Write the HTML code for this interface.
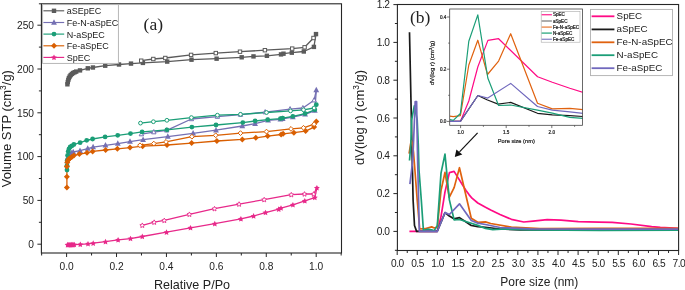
<!DOCTYPE html><html><head><meta charset="utf-8"><style>html,body{margin:0;padding:0;background:#fff;}svg{display:block;will-change:transform;}</style></head><body>
<svg width="685" height="290" viewBox="0 0 685 290">
<rect width="685" height="290" fill="#fff"/>
<g>
<polyline points="67.4,84.3 67.8,82 68.3,79.9 68.9,78.1 69.7,76.5 70.7,75.1 71.9,73.9 73.2,73 74.7,72.2 76.2,71.6 80,70.4 87.8,68.3 92.9,67.5 105.2,65.7 119,64.5 131,63.6 142.9,62.9 167.2,61.6 191.5,59.7 216.6,58.7 241.7,57.3 253.5,56.4 266.9,55.8 281,54.4 283.5,53.7 291.8,52.7 303.8,51.5 313.9,46.9 316,34.1" fill="none" stroke="#5b5b5b" stroke-width="1.3" stroke-linejoin="round" stroke-linecap="butt" />
<polyline points="316,34.1 313.5,38 304.6,47.3 292.2,48.6 264.9,50.2 240,51.7 215.8,53.1 191.1,54.9 165.3,58 153.3,59 141.2,60.7" fill="none" stroke="#5b5b5b" stroke-width="1.3" stroke-linejoin="round" stroke-linecap="butt" />
<polyline points="67,165 67.2,161 67.8,157.5 68.8,155.5 70,154.2 71.5,153 73.2,152 80,150.7 87.7,148.6 93.1,147.1 105.5,145.3 117.8,143.6 130,141.6 143.1,139.7 167.8,136.6 193.1,133.3 216,130.2 242.3,126 255.1,123.7 268.1,120.4 280.4,119.3 282.7,118.8 292.8,117 305.1,114.4 314.8,110.6 316.3,90.1" fill="none" stroke="#7570b3" stroke-width="1.3" stroke-linejoin="round" stroke-linecap="butt" />
<polyline points="316.3,90.1 314.1,100.2 302.9,108 290.1,109.1 265.2,112.1 240.5,114.6 217.4,116.6 191.4,119 166.7,130.3 153.8,132.1 141.4,134.1" fill="none" stroke="#7570b3" stroke-width="1.3" stroke-linejoin="round" stroke-linecap="butt" />
<polyline points="67,170 67,165.5 67.2,160.5 67.6,155.5 68.2,151.5 69,148.8 70.2,147 71.8,145.9 73.9,144.5 80.1,142.7 86.7,140.3 92.6,139 105.1,136.9 117.7,135.3 130.5,133.6 142.1,131.9 166.9,129.8 191.9,127.1 216,125 242.8,122.6 255.1,121 267.7,119.7 280.4,118.6 282.7,118.1 292.8,116.3 305.1,113.6 314.8,109.8 316.3,104.7" fill="none" stroke="#1b9e77" stroke-width="1.3" stroke-linejoin="round" stroke-linecap="butt" />
<polyline points="316.3,104.7 314.1,108 303.5,109.8 290.5,110.9 266.5,112.5 240.5,114.3 217.4,115.2 191.4,117.6 166.9,120.3 153.4,121.7 140.5,123.1" fill="none" stroke="#1b9e77" stroke-width="1.3" stroke-linejoin="round" stroke-linecap="butt" />
<polyline points="66.9,187.4 66.9,176.7 66.9,166.4 67.3,162.3 68,160.3 69,159 70.2,158 71.8,156.9 73.9,155.5 79.4,154.1 87,152.8 92.6,151.4 105.6,150 117.4,148.8 130,147.6 142.6,146.2 167,145 191.6,143.1 216.9,141 242.3,139.4 255.8,137.8 267.7,136.1 281.1,134.5 283.1,133.8 293.9,132.7 305.6,131.1 314.1,127.1 316.3,121.5" fill="none" stroke="#d95f02" stroke-width="1.3" stroke-linejoin="round" stroke-linecap="butt" />
<polyline points="316.3,121.5 314.1,124.2 303.5,127.8 291,128.9 266.5,131.6 240.5,133.1 215.7,135.3 191.9,136.7 166,141.9 153.8,143.6 140,145.3" fill="none" stroke="#d95f02" stroke-width="1.3" stroke-linejoin="round" stroke-linecap="butt" />
<polyline points="67.6,244.7 68.3,244.8 69.1,244.8 69.9,244.8 70.7,244.8 71.5,244.7 72.3,244.7 73.2,244.7 74.3,244.6 80.3,244.4 88,243.8 93.2,243.2 105.5,241.7 118.1,239.9 130.5,238.6 142.3,236.5 166.5,232.2 190.5,227.8 214.8,223.7 240.9,218.9 253.6,216 265.5,212.6 278.7,209.2 281,208.1 292.9,204.8 304.8,200.9 314.8,197.6 316.9,187.9" fill="none" stroke="#e7298a" stroke-width="1.3" stroke-linejoin="round" stroke-linecap="butt" />
<polyline points="316.9,187.9 313.7,194 304.5,194 291.3,194.7 264.2,199.6 239.1,204.1 214.5,208.7 189.4,214.3 164.3,220.4 154.2,222.2 142.3,225.3" fill="none" stroke="#e7298a" stroke-width="1.3" stroke-linejoin="round" stroke-linecap="butt" />
<rect x="65.2" y="82.1" width="4.4" height="4.4" fill="#5b5b5b"/>
<rect x="65.6" y="79.8" width="4.4" height="4.4" fill="#5b5b5b"/>
<rect x="66.1" y="77.7" width="4.4" height="4.4" fill="#5b5b5b"/>
<rect x="66.7" y="75.9" width="4.4" height="4.4" fill="#5b5b5b"/>
<rect x="67.5" y="74.3" width="4.4" height="4.4" fill="#5b5b5b"/>
<rect x="68.5" y="72.9" width="4.4" height="4.4" fill="#5b5b5b"/>
<rect x="69.7" y="71.7" width="4.4" height="4.4" fill="#5b5b5b"/>
<rect x="71" y="70.8" width="4.4" height="4.4" fill="#5b5b5b"/>
<rect x="72.5" y="70" width="4.4" height="4.4" fill="#5b5b5b"/>
<rect x="74" y="69.4" width="4.4" height="4.4" fill="#5b5b5b"/>
<rect x="77.8" y="68.2" width="4.4" height="4.4" fill="#5b5b5b"/>
<rect x="85.6" y="66.1" width="4.4" height="4.4" fill="#5b5b5b"/>
<rect x="90.7" y="65.3" width="4.4" height="4.4" fill="#5b5b5b"/>
<rect x="103" y="63.5" width="4.4" height="4.4" fill="#5b5b5b"/>
<rect x="116.8" y="62.3" width="4.4" height="4.4" fill="#5b5b5b"/>
<rect x="128.8" y="61.4" width="4.4" height="4.4" fill="#5b5b5b"/>
<rect x="140.7" y="60.7" width="4.4" height="4.4" fill="#5b5b5b"/>
<rect x="165" y="59.4" width="4.4" height="4.4" fill="#5b5b5b"/>
<rect x="189.3" y="57.5" width="4.4" height="4.4" fill="#5b5b5b"/>
<rect x="214.4" y="56.5" width="4.4" height="4.4" fill="#5b5b5b"/>
<rect x="239.5" y="55.1" width="4.4" height="4.4" fill="#5b5b5b"/>
<rect x="251.3" y="54.2" width="4.4" height="4.4" fill="#5b5b5b"/>
<rect x="264.7" y="53.6" width="4.4" height="4.4" fill="#5b5b5b"/>
<rect x="278.8" y="52.2" width="4.4" height="4.4" fill="#5b5b5b"/>
<rect x="281.3" y="51.5" width="4.4" height="4.4" fill="#5b5b5b"/>
<rect x="289.6" y="50.5" width="4.4" height="4.4" fill="#5b5b5b"/>
<rect x="301.6" y="49.3" width="4.4" height="4.4" fill="#5b5b5b"/>
<rect x="311.7" y="44.7" width="4.4" height="4.4" fill="#5b5b5b"/>
<rect x="313.8" y="31.9" width="4.4" height="4.4" fill="#5b5b5b"/>
<rect x="311.8" y="36.3" width="3.4" height="3.4" fill="#fff" stroke="#5b5b5b" stroke-width="1"/>
<rect x="302.9" y="45.6" width="3.4" height="3.4" fill="#fff" stroke="#5b5b5b" stroke-width="1"/>
<rect x="290.5" y="46.9" width="3.4" height="3.4" fill="#fff" stroke="#5b5b5b" stroke-width="1"/>
<rect x="263.2" y="48.5" width="3.4" height="3.4" fill="#fff" stroke="#5b5b5b" stroke-width="1"/>
<rect x="238.3" y="50" width="3.4" height="3.4" fill="#fff" stroke="#5b5b5b" stroke-width="1"/>
<rect x="214.1" y="51.4" width="3.4" height="3.4" fill="#fff" stroke="#5b5b5b" stroke-width="1"/>
<rect x="189.4" y="53.2" width="3.4" height="3.4" fill="#fff" stroke="#5b5b5b" stroke-width="1"/>
<rect x="163.6" y="56.3" width="3.4" height="3.4" fill="#fff" stroke="#5b5b5b" stroke-width="1"/>
<rect x="151.6" y="57.3" width="3.4" height="3.4" fill="#fff" stroke="#5b5b5b" stroke-width="1"/>
<rect x="139.5" y="59" width="3.4" height="3.4" fill="#fff" stroke="#5b5b5b" stroke-width="1"/>
<polygon points="67,161.69 69.9,167.2 64.1,167.2" fill="#7570b3"/>
<polygon points="67.2,157.69 70.1,163.2 64.3,163.2" fill="#7570b3"/>
<polygon points="67.8,154.19 70.7,159.7 64.9,159.7" fill="#7570b3"/>
<polygon points="68.8,152.19 71.7,157.7 65.9,157.7" fill="#7570b3"/>
<polygon points="70,150.89 72.9,156.4 67.1,156.4" fill="#7570b3"/>
<polygon points="71.5,149.69 74.4,155.2 68.6,155.2" fill="#7570b3"/>
<polygon points="73.2,148.69 76.1,154.2 70.3,154.2" fill="#7570b3"/>
<polygon points="80,147.39 82.9,152.9 77.1,152.9" fill="#7570b3"/>
<polygon points="87.7,145.29 90.6,150.8 84.8,150.8" fill="#7570b3"/>
<polygon points="93.1,143.79 96,149.3 90.2,149.3" fill="#7570b3"/>
<polygon points="105.5,141.99 108.4,147.5 102.6,147.5" fill="#7570b3"/>
<polygon points="117.8,140.29 120.7,145.8 114.9,145.8" fill="#7570b3"/>
<polygon points="130,138.29 132.9,143.8 127.1,143.8" fill="#7570b3"/>
<polygon points="143.1,136.39 146,141.9 140.2,141.9" fill="#7570b3"/>
<polygon points="167.8,133.29 170.7,138.8 164.9,138.8" fill="#7570b3"/>
<polygon points="193.1,129.99 196,135.5 190.2,135.5" fill="#7570b3"/>
<polygon points="216,126.89 218.9,132.4 213.1,132.4" fill="#7570b3"/>
<polygon points="242.3,122.69 245.2,128.2 239.4,128.2" fill="#7570b3"/>
<polygon points="255.1,120.39 258,125.9 252.2,125.9" fill="#7570b3"/>
<polygon points="268.1,117.09 271,122.6 265.2,122.6" fill="#7570b3"/>
<polygon points="280.4,115.99 283.3,121.5 277.5,121.5" fill="#7570b3"/>
<polygon points="282.7,115.49 285.6,121 279.8,121" fill="#7570b3"/>
<polygon points="292.8,113.69 295.7,119.2 289.9,119.2" fill="#7570b3"/>
<polygon points="305.1,111.09 308,116.6 302.2,116.6" fill="#7570b3"/>
<polygon points="314.8,107.29 317.7,112.8 311.9,112.8" fill="#7570b3"/>
<polygon points="316.3,86.79 319.2,92.3 313.4,92.3" fill="#7570b3"/>
<polygon points="314.1,97.69 316.3,101.9 311.9,101.9" fill="#fff" stroke="#7570b3" stroke-width="1"/>
<polygon points="302.9,105.49 305.1,109.7 300.7,109.7" fill="#fff" stroke="#7570b3" stroke-width="1"/>
<polygon points="290.1,106.59 292.3,110.8 287.9,110.8" fill="#fff" stroke="#7570b3" stroke-width="1"/>
<polygon points="265.2,109.59 267.4,113.8 263,113.8" fill="#fff" stroke="#7570b3" stroke-width="1"/>
<polygon points="240.5,112.09 242.7,116.3 238.3,116.3" fill="#fff" stroke="#7570b3" stroke-width="1"/>
<polygon points="217.4,114.09 219.6,118.3 215.2,118.3" fill="#fff" stroke="#7570b3" stroke-width="1"/>
<polygon points="191.4,116.49 193.6,120.7 189.2,120.7" fill="#fff" stroke="#7570b3" stroke-width="1"/>
<polygon points="166.7,127.79 168.9,132 164.5,132" fill="#fff" stroke="#7570b3" stroke-width="1"/>
<polygon points="153.8,129.59 156,133.8 151.6,133.8" fill="#fff" stroke="#7570b3" stroke-width="1"/>
<polygon points="141.4,131.59 143.6,135.8 139.2,135.8" fill="#fff" stroke="#7570b3" stroke-width="1"/>
<circle cx="67" cy="170" r="2.4" fill="#1b9e77"/>
<circle cx="67" cy="165.5" r="2.4" fill="#1b9e77"/>
<circle cx="67.2" cy="160.5" r="2.4" fill="#1b9e77"/>
<circle cx="67.6" cy="155.5" r="2.4" fill="#1b9e77"/>
<circle cx="68.2" cy="151.5" r="2.4" fill="#1b9e77"/>
<circle cx="69" cy="148.8" r="2.4" fill="#1b9e77"/>
<circle cx="70.2" cy="147" r="2.4" fill="#1b9e77"/>
<circle cx="71.8" cy="145.9" r="2.4" fill="#1b9e77"/>
<circle cx="73.9" cy="144.5" r="2.4" fill="#1b9e77"/>
<circle cx="80.1" cy="142.7" r="2.4" fill="#1b9e77"/>
<circle cx="86.7" cy="140.3" r="2.4" fill="#1b9e77"/>
<circle cx="92.6" cy="139" r="2.4" fill="#1b9e77"/>
<circle cx="105.1" cy="136.9" r="2.4" fill="#1b9e77"/>
<circle cx="117.7" cy="135.3" r="2.4" fill="#1b9e77"/>
<circle cx="130.5" cy="133.6" r="2.4" fill="#1b9e77"/>
<circle cx="142.1" cy="131.9" r="2.4" fill="#1b9e77"/>
<circle cx="166.9" cy="129.8" r="2.4" fill="#1b9e77"/>
<circle cx="191.9" cy="127.1" r="2.4" fill="#1b9e77"/>
<circle cx="216" cy="125" r="2.4" fill="#1b9e77"/>
<circle cx="242.8" cy="122.6" r="2.4" fill="#1b9e77"/>
<circle cx="255.1" cy="121" r="2.4" fill="#1b9e77"/>
<circle cx="267.7" cy="119.7" r="2.4" fill="#1b9e77"/>
<circle cx="280.4" cy="118.6" r="2.4" fill="#1b9e77"/>
<circle cx="282.7" cy="118.1" r="2.4" fill="#1b9e77"/>
<circle cx="292.8" cy="116.3" r="2.4" fill="#1b9e77"/>
<circle cx="305.1" cy="113.6" r="2.4" fill="#1b9e77"/>
<circle cx="314.8" cy="109.8" r="2.4" fill="#1b9e77"/>
<circle cx="316.3" cy="104.7" r="2.4" fill="#1b9e77"/>
<circle cx="314.1" cy="108" r="1.9" fill="#fff" stroke="#1b9e77" stroke-width="1"/>
<circle cx="303.5" cy="109.8" r="1.9" fill="#fff" stroke="#1b9e77" stroke-width="1"/>
<circle cx="290.5" cy="110.9" r="1.9" fill="#fff" stroke="#1b9e77" stroke-width="1"/>
<circle cx="266.5" cy="112.5" r="1.9" fill="#fff" stroke="#1b9e77" stroke-width="1"/>
<circle cx="240.5" cy="114.3" r="1.9" fill="#fff" stroke="#1b9e77" stroke-width="1"/>
<circle cx="217.4" cy="115.2" r="1.9" fill="#fff" stroke="#1b9e77" stroke-width="1"/>
<circle cx="191.4" cy="117.6" r="1.9" fill="#fff" stroke="#1b9e77" stroke-width="1"/>
<circle cx="166.9" cy="120.3" r="1.9" fill="#fff" stroke="#1b9e77" stroke-width="1"/>
<circle cx="153.4" cy="121.7" r="1.9" fill="#fff" stroke="#1b9e77" stroke-width="1"/>
<circle cx="140.5" cy="123.1" r="1.9" fill="#fff" stroke="#1b9e77" stroke-width="1"/>
<polygon points="66.9,184.4 69.9,187.4 66.9,190.4 63.9,187.4" fill="#d95f02"/>
<polygon points="66.9,173.7 69.9,176.7 66.9,179.7 63.9,176.7" fill="#d95f02"/>
<polygon points="66.9,163.4 69.9,166.4 66.9,169.4 63.9,166.4" fill="#d95f02"/>
<polygon points="67.3,159.3 70.3,162.3 67.3,165.3 64.3,162.3" fill="#d95f02"/>
<polygon points="68,157.3 71,160.3 68,163.3 65,160.3" fill="#d95f02"/>
<polygon points="69,156 72,159 69,162 66,159" fill="#d95f02"/>
<polygon points="70.2,155 73.2,158 70.2,161 67.2,158" fill="#d95f02"/>
<polygon points="71.8,153.9 74.8,156.9 71.8,159.9 68.8,156.9" fill="#d95f02"/>
<polygon points="73.9,152.5 76.9,155.5 73.9,158.5 70.9,155.5" fill="#d95f02"/>
<polygon points="79.4,151.1 82.4,154.1 79.4,157.1 76.4,154.1" fill="#d95f02"/>
<polygon points="87,149.8 90,152.8 87,155.8 84,152.8" fill="#d95f02"/>
<polygon points="92.6,148.4 95.6,151.4 92.6,154.4 89.6,151.4" fill="#d95f02"/>
<polygon points="105.6,147 108.6,150 105.6,153 102.6,150" fill="#d95f02"/>
<polygon points="117.4,145.8 120.4,148.8 117.4,151.8 114.4,148.8" fill="#d95f02"/>
<polygon points="130,144.6 133,147.6 130,150.6 127,147.6" fill="#d95f02"/>
<polygon points="142.6,143.2 145.6,146.2 142.6,149.2 139.6,146.2" fill="#d95f02"/>
<polygon points="167,142 170,145 167,148 164,145" fill="#d95f02"/>
<polygon points="191.6,140.1 194.6,143.1 191.6,146.1 188.6,143.1" fill="#d95f02"/>
<polygon points="216.9,138 219.9,141 216.9,144 213.9,141" fill="#d95f02"/>
<polygon points="242.3,136.4 245.3,139.4 242.3,142.4 239.3,139.4" fill="#d95f02"/>
<polygon points="255.8,134.8 258.8,137.8 255.8,140.8 252.8,137.8" fill="#d95f02"/>
<polygon points="267.7,133.1 270.7,136.1 267.7,139.1 264.7,136.1" fill="#d95f02"/>
<polygon points="281.1,131.5 284.1,134.5 281.1,137.5 278.1,134.5" fill="#d95f02"/>
<polygon points="283.1,130.8 286.1,133.8 283.1,136.8 280.1,133.8" fill="#d95f02"/>
<polygon points="293.9,129.7 296.9,132.7 293.9,135.7 290.9,132.7" fill="#d95f02"/>
<polygon points="305.6,128.1 308.6,131.1 305.6,134.1 302.6,131.1" fill="#d95f02"/>
<polygon points="314.1,124.1 317.1,127.1 314.1,130.1 311.1,127.1" fill="#d95f02"/>
<polygon points="316.3,118.5 319.3,121.5 316.3,124.5 313.3,121.5" fill="#d95f02"/>
<polygon points="314.1,121.8 316.5,124.2 314.1,126.6 311.7,124.2" fill="#fff" stroke="#d95f02" stroke-width="1"/>
<polygon points="303.5,125.4 305.9,127.8 303.5,130.2 301.1,127.8" fill="#fff" stroke="#d95f02" stroke-width="1"/>
<polygon points="291,126.5 293.4,128.9 291,131.3 288.6,128.9" fill="#fff" stroke="#d95f02" stroke-width="1"/>
<polygon points="266.5,129.2 268.9,131.6 266.5,134 264.1,131.6" fill="#fff" stroke="#d95f02" stroke-width="1"/>
<polygon points="240.5,130.7 242.9,133.1 240.5,135.5 238.1,133.1" fill="#fff" stroke="#d95f02" stroke-width="1"/>
<polygon points="215.7,132.9 218.1,135.3 215.7,137.7 213.3,135.3" fill="#fff" stroke="#d95f02" stroke-width="1"/>
<polygon points="191.9,134.3 194.3,136.7 191.9,139.1 189.5,136.7" fill="#fff" stroke="#d95f02" stroke-width="1"/>
<polygon points="166,139.5 168.4,141.9 166,144.3 163.6,141.9" fill="#fff" stroke="#d95f02" stroke-width="1"/>
<polygon points="153.8,141.2 156.2,143.6 153.8,146 151.4,143.6" fill="#fff" stroke="#d95f02" stroke-width="1"/>
<polygon points="140,142.9 142.4,145.3 140,147.7 137.6,145.3" fill="#fff" stroke="#d95f02" stroke-width="1"/>
<polygon points="67.6,241.8 68.51,243.65 70.55,243.94 69.07,245.38 69.42,247.41 67.6,246.45 65.78,247.41 66.13,245.38 64.65,243.94 66.69,243.65" fill="#e7298a"/>
<polygon points="68.3,241.9 69.21,243.75 71.25,244.04 69.77,245.48 70.12,247.51 68.3,246.55 66.48,247.51 66.83,245.48 65.35,244.04 67.39,243.75" fill="#e7298a"/>
<polygon points="69.1,241.9 70.01,243.75 72.05,244.04 70.57,245.48 70.92,247.51 69.1,246.55 67.28,247.51 67.63,245.48 66.15,244.04 68.19,243.75" fill="#e7298a"/>
<polygon points="69.9,241.9 70.81,243.75 72.85,244.04 71.37,245.48 71.72,247.51 69.9,246.55 68.08,247.51 68.43,245.48 66.95,244.04 68.99,243.75" fill="#e7298a"/>
<polygon points="70.7,241.9 71.61,243.75 73.65,244.04 72.17,245.48 72.52,247.51 70.7,246.55 68.88,247.51 69.23,245.48 67.75,244.04 69.79,243.75" fill="#e7298a"/>
<polygon points="71.5,241.8 72.41,243.65 74.45,243.94 72.97,245.38 73.32,247.41 71.5,246.45 69.68,247.41 70.03,245.38 68.55,243.94 70.59,243.65" fill="#e7298a"/>
<polygon points="72.3,241.8 73.21,243.65 75.25,243.94 73.77,245.38 74.12,247.41 72.3,246.45 70.48,247.41 70.83,245.38 69.35,243.94 71.39,243.65" fill="#e7298a"/>
<polygon points="73.2,241.8 74.11,243.65 76.15,243.94 74.67,245.38 75.02,247.41 73.2,246.45 71.38,247.41 71.73,245.38 70.25,243.94 72.29,243.65" fill="#e7298a"/>
<polygon points="74.3,241.7 75.21,243.55 77.25,243.84 75.77,245.28 76.12,247.31 74.3,246.35 72.48,247.31 72.83,245.28 71.35,243.84 73.39,243.55" fill="#e7298a"/>
<polygon points="80.3,241.5 81.21,243.35 83.25,243.64 81.77,245.08 82.12,247.11 80.3,246.15 78.48,247.11 78.83,245.08 77.35,243.64 79.39,243.35" fill="#e7298a"/>
<polygon points="88,240.9 88.91,242.75 90.95,243.04 89.47,244.48 89.82,246.51 88,245.55 86.18,246.51 86.53,244.48 85.05,243.04 87.09,242.75" fill="#e7298a"/>
<polygon points="93.2,240.3 94.11,242.15 96.15,242.44 94.67,243.88 95.02,245.91 93.2,244.95 91.38,245.91 91.73,243.88 90.25,242.44 92.29,242.15" fill="#e7298a"/>
<polygon points="105.5,238.8 106.41,240.65 108.45,240.94 106.97,242.38 107.32,244.41 105.5,243.45 103.68,244.41 104.03,242.38 102.55,240.94 104.59,240.65" fill="#e7298a"/>
<polygon points="118.1,237 119.01,238.85 121.05,239.14 119.57,240.58 119.92,242.61 118.1,241.65 116.28,242.61 116.63,240.58 115.15,239.14 117.19,238.85" fill="#e7298a"/>
<polygon points="130.5,235.7 131.41,237.55 133.45,237.84 131.97,239.28 132.32,241.31 130.5,240.35 128.68,241.31 129.03,239.28 127.55,237.84 129.59,237.55" fill="#e7298a"/>
<polygon points="142.3,233.6 143.21,235.45 145.25,235.74 143.77,237.18 144.12,239.21 142.3,238.25 140.48,239.21 140.83,237.18 139.35,235.74 141.39,235.45" fill="#e7298a"/>
<polygon points="166.5,229.3 167.41,231.15 169.45,231.44 167.97,232.88 168.32,234.91 166.5,233.95 164.68,234.91 165.03,232.88 163.55,231.44 165.59,231.15" fill="#e7298a"/>
<polygon points="190.5,224.9 191.41,226.75 193.45,227.04 191.97,228.48 192.32,230.51 190.5,229.55 188.68,230.51 189.03,228.48 187.55,227.04 189.59,226.75" fill="#e7298a"/>
<polygon points="214.8,220.8 215.71,222.65 217.75,222.94 216.27,224.38 216.62,226.41 214.8,225.45 212.98,226.41 213.33,224.38 211.85,222.94 213.89,222.65" fill="#e7298a"/>
<polygon points="240.9,216 241.81,217.85 243.85,218.14 242.37,219.58 242.72,221.61 240.9,220.65 239.08,221.61 239.43,219.58 237.95,218.14 239.99,217.85" fill="#e7298a"/>
<polygon points="253.6,213.1 254.51,214.95 256.55,215.24 255.07,216.68 255.42,218.71 253.6,217.75 251.78,218.71 252.13,216.68 250.65,215.24 252.69,214.95" fill="#e7298a"/>
<polygon points="265.5,209.7 266.41,211.55 268.45,211.84 266.97,213.28 267.32,215.31 265.5,214.35 263.68,215.31 264.03,213.28 262.55,211.84 264.59,211.55" fill="#e7298a"/>
<polygon points="278.7,206.3 279.61,208.15 281.65,208.44 280.17,209.88 280.52,211.91 278.7,210.95 276.88,211.91 277.23,209.88 275.75,208.44 277.79,208.15" fill="#e7298a"/>
<polygon points="281,205.2 281.91,207.05 283.95,207.34 282.47,208.78 282.82,210.81 281,209.85 279.18,210.81 279.53,208.78 278.05,207.34 280.09,207.05" fill="#e7298a"/>
<polygon points="292.9,201.9 293.81,203.75 295.85,204.04 294.37,205.48 294.72,207.51 292.9,206.55 291.08,207.51 291.43,205.48 289.95,204.04 291.99,203.75" fill="#e7298a"/>
<polygon points="304.8,198 305.71,199.85 307.75,200.14 306.27,201.58 306.62,203.61 304.8,202.65 302.98,203.61 303.33,201.58 301.85,200.14 303.89,199.85" fill="#e7298a"/>
<polygon points="314.8,194.7 315.71,196.55 317.75,196.84 316.27,198.28 316.62,200.31 314.8,199.35 312.98,200.31 313.33,198.28 311.85,196.84 313.89,196.55" fill="#e7298a"/>
<polygon points="316.9,185 317.81,186.85 319.85,187.14 318.37,188.58 318.72,190.61 316.9,189.65 315.08,190.61 315.43,188.58 313.95,187.14 315.99,186.85" fill="#e7298a"/>
<polygon points="313.7,191.65 314.43,193.19 316.13,193.41 314.89,194.59 315.2,196.26 313.7,195.45 312.2,196.26 312.51,194.59 311.27,193.41 312.97,193.19" fill="#fff" stroke="#e7298a" stroke-width="0.9"/>
<polygon points="304.5,191.65 305.23,193.19 306.93,193.41 305.69,194.59 306,196.26 304.5,195.45 303,196.26 303.31,194.59 302.07,193.41 303.77,193.19" fill="#fff" stroke="#e7298a" stroke-width="0.9"/>
<polygon points="291.3,192.35 292.03,193.89 293.73,194.11 292.49,195.29 292.8,196.96 291.3,196.15 289.8,196.96 290.11,195.29 288.87,194.11 290.57,193.89" fill="#fff" stroke="#e7298a" stroke-width="0.9"/>
<polygon points="264.2,197.25 264.93,198.79 266.63,199.01 265.39,200.19 265.7,201.86 264.2,201.05 262.7,201.86 263.01,200.19 261.77,199.01 263.47,198.79" fill="#fff" stroke="#e7298a" stroke-width="0.9"/>
<polygon points="239.1,201.75 239.83,203.29 241.53,203.51 240.29,204.69 240.6,206.36 239.1,205.55 237.6,206.36 237.91,204.69 236.67,203.51 238.37,203.29" fill="#fff" stroke="#e7298a" stroke-width="0.9"/>
<polygon points="214.5,206.35 215.23,207.89 216.93,208.11 215.69,209.29 216,210.96 214.5,210.15 213,210.96 213.31,209.29 212.07,208.11 213.77,207.89" fill="#fff" stroke="#e7298a" stroke-width="0.9"/>
<polygon points="189.4,211.95 190.13,213.49 191.83,213.71 190.59,214.89 190.9,216.56 189.4,215.75 187.9,216.56 188.21,214.89 186.97,213.71 188.67,213.49" fill="#fff" stroke="#e7298a" stroke-width="0.9"/>
<polygon points="164.3,218.05 165.03,219.59 166.73,219.81 165.49,220.99 165.8,222.66 164.3,221.85 162.8,222.66 163.11,220.99 161.87,219.81 163.57,219.59" fill="#fff" stroke="#e7298a" stroke-width="0.9"/>
<polygon points="154.2,219.85 154.93,221.39 156.63,221.61 155.39,222.79 155.7,224.46 154.2,223.65 152.7,224.46 153.01,222.79 151.77,221.61 153.47,221.39" fill="#fff" stroke="#e7298a" stroke-width="0.9"/>
<polygon points="142.3,222.95 143.03,224.49 144.73,224.71 143.49,225.89 143.8,227.56 142.3,226.75 140.8,227.56 141.11,225.89 139.87,224.71 141.57,224.49" fill="#fff" stroke="#e7298a" stroke-width="0.9"/>
</g>
<rect x="41.4" y="3.8" width="300.1" height="249.2" fill="none" stroke="#262626" stroke-width="1.1"/>
<line x1="41.64" y1="253" x2="41.64" y2="255.5" stroke="#262626" stroke-width="1"/>
<line x1="66.6" y1="253" x2="66.6" y2="257" stroke="#262626" stroke-width="1"/>
<text x="66.6" y="269.5" font-size="10.2" text-anchor="middle" fill="#222" font-family='"Liberation Sans", sans-serif' >0.0</text>
<line x1="91.56" y1="253" x2="91.56" y2="255.5" stroke="#262626" stroke-width="1"/>
<line x1="116.52" y1="253" x2="116.52" y2="257" stroke="#262626" stroke-width="1"/>
<text x="116.52" y="269.5" font-size="10.2" text-anchor="middle" fill="#222" font-family='"Liberation Sans", sans-serif' >0.2</text>
<line x1="141.48" y1="253" x2="141.48" y2="255.5" stroke="#262626" stroke-width="1"/>
<line x1="166.44" y1="253" x2="166.44" y2="257" stroke="#262626" stroke-width="1"/>
<text x="166.44" y="269.5" font-size="10.2" text-anchor="middle" fill="#222" font-family='"Liberation Sans", sans-serif' >0.4</text>
<line x1="191.4" y1="253" x2="191.4" y2="255.5" stroke="#262626" stroke-width="1"/>
<line x1="216.36" y1="253" x2="216.36" y2="257" stroke="#262626" stroke-width="1"/>
<text x="216.36" y="269.5" font-size="10.2" text-anchor="middle" fill="#222" font-family='"Liberation Sans", sans-serif' >0.6</text>
<line x1="241.32" y1="253" x2="241.32" y2="255.5" stroke="#262626" stroke-width="1"/>
<line x1="266.28" y1="253" x2="266.28" y2="257" stroke="#262626" stroke-width="1"/>
<text x="266.28" y="269.5" font-size="10.2" text-anchor="middle" fill="#222" font-family='"Liberation Sans", sans-serif' >0.8</text>
<line x1="291.24" y1="253" x2="291.24" y2="255.5" stroke="#262626" stroke-width="1"/>
<line x1="316.2" y1="253" x2="316.2" y2="257" stroke="#262626" stroke-width="1"/>
<text x="316.2" y="269.5" font-size="10.2" text-anchor="middle" fill="#222" font-family='"Liberation Sans", sans-serif' >1.0</text>
<line x1="341.16" y1="253" x2="341.16" y2="255.5" stroke="#262626" stroke-width="1"/>
<line x1="37.4" y1="244.2" x2="41.4" y2="244.2" stroke="#262626" stroke-width="1"/>
<text x="34" y="247.9" font-size="10.2" text-anchor="end" fill="#222" font-family='"Liberation Sans", sans-serif' >0</text>
<line x1="38.9" y1="222.3" x2="41.4" y2="222.3" stroke="#262626" stroke-width="1"/>
<line x1="37.4" y1="200.4" x2="41.4" y2="200.4" stroke="#262626" stroke-width="1"/>
<text x="34" y="204.1" font-size="10.2" text-anchor="end" fill="#222" font-family='"Liberation Sans", sans-serif' >50</text>
<line x1="38.9" y1="178.5" x2="41.4" y2="178.5" stroke="#262626" stroke-width="1"/>
<line x1="37.4" y1="156.6" x2="41.4" y2="156.6" stroke="#262626" stroke-width="1"/>
<text x="34" y="160.3" font-size="10.2" text-anchor="end" fill="#222" font-family='"Liberation Sans", sans-serif' >100</text>
<line x1="38.9" y1="134.7" x2="41.4" y2="134.7" stroke="#262626" stroke-width="1"/>
<line x1="37.4" y1="112.8" x2="41.4" y2="112.8" stroke="#262626" stroke-width="1"/>
<text x="34" y="116.5" font-size="10.2" text-anchor="end" fill="#222" font-family='"Liberation Sans", sans-serif' >150</text>
<line x1="38.9" y1="90.9" x2="41.4" y2="90.9" stroke="#262626" stroke-width="1"/>
<line x1="37.4" y1="69" x2="41.4" y2="69" stroke="#262626" stroke-width="1"/>
<text x="34" y="72.7" font-size="10.2" text-anchor="end" fill="#222" font-family='"Liberation Sans", sans-serif' >200</text>
<line x1="38.9" y1="47.1" x2="41.4" y2="47.1" stroke="#262626" stroke-width="1"/>
<line x1="37.4" y1="25.2" x2="41.4" y2="25.2" stroke="#262626" stroke-width="1"/>
<text x="34" y="28.9" font-size="10.2" text-anchor="end" fill="#222" font-family='"Liberation Sans", sans-serif' >250</text>
<line x1="38.9" y1="3.8" x2="41.4" y2="3.8" stroke="#262626" stroke-width="1"/>
<rect x="42.6" y="4.6" width="75.8" height="58.8" fill="#fff" stroke="#b0b0b0" stroke-width="0.9"/>
<line x1="43.4" y1="10.8" x2="64.2" y2="10.8" stroke="#5b5b5b" stroke-width="1.15"/>
<rect x="51.8" y="8.6" width="4.4" height="4.4" fill="#5b5b5b"/>
<text x="66.7" y="14.2" font-size="9.0" text-anchor="start" fill="#1a1a1a" font-family='"Liberation Sans", sans-serif' >aSEpEC</text>
<line x1="43.4" y1="22.5" x2="64.2" y2="22.5" stroke="#7570b3" stroke-width="1.15"/>
<polygon points="54,19.19 56.9,24.7 51.1,24.7" fill="#7570b3"/>
<text x="66.7" y="25.9" font-size="9.0" text-anchor="start" fill="#1a1a1a" font-family='"Liberation Sans", sans-serif' >Fe-N-aSpEC</text>
<line x1="43.4" y1="34.1" x2="64.2" y2="34.1" stroke="#1b9e77" stroke-width="1.15"/>
<circle cx="54" cy="34.1" r="2.4" fill="#1b9e77"/>
<text x="66.7" y="37.5" font-size="9.0" text-anchor="start" fill="#1a1a1a" font-family='"Liberation Sans", sans-serif' >N-aSpEC</text>
<line x1="43.4" y1="45.8" x2="64.2" y2="45.8" stroke="#d95f02" stroke-width="1.15"/>
<polygon points="54,42.8 57,45.8 54,48.8 51,45.8" fill="#d95f02"/>
<text x="66.7" y="49.2" font-size="9.0" text-anchor="start" fill="#1a1a1a" font-family='"Liberation Sans", sans-serif' >Fe-aSpEC</text>
<line x1="43.4" y1="57.4" x2="64.2" y2="57.4" stroke="#e7298a" stroke-width="1.15"/>
<polygon points="54,54.5 54.91,56.35 56.95,56.64 55.47,58.08 55.82,60.11 54,59.15 52.18,60.11 52.53,58.08 51.05,56.64 53.09,56.35" fill="#e7298a"/>
<text x="66.7" y="60.8" font-size="9.0" text-anchor="start" fill="#1a1a1a" font-family='"Liberation Sans", sans-serif' >SpEC</text>
<text x="143.6" y="30.2" font-size="17.5" text-anchor="start" fill="#222" font-family='"Liberation Serif", serif' >(a)</text>
<text x="154" y="289.2" font-size="12.55" text-anchor="start" fill="#222" font-family='"Liberation Sans", sans-serif' >Relative P/Po</text>
<text transform="translate(11.0,187.2) rotate(-90)" font-size="13" fill="#222" font-family='"Liberation Sans", sans-serif'>Volume STP (cm<tspan font-size="8.4" dy="-5">3</tspan><tspan dy="5">/g)</tspan></text>
<clipPath id="rc"><rect x="397.4" y="4.5" width="281.20000000000005" height="246.0"/></clipPath>
<g clip-path="url(#rc)">
<polyline points="409.4,231.4 437.2,231.4 441,216.6 445,191.9 449.4,172.6 454.1,171.4 466,190.5 469,194.6 472,198.2 477.8,203 485.5,207.3 490.7,210 500,214.5 511.4,219.3 523.8,222 533,221.2 547.2,219.7 561,220.2 578.3,221.6 599,222.1 612.1,222.4 631,224 651.7,226.6 660.3,227.4 678.3,228.3" fill="none" stroke="#ff0a85" stroke-width="1.7" stroke-linejoin="round" stroke-linecap="butt" />
<polyline points="409.5,32.2 413.1,200 414.5,225.5 416.6,231.4 437.2,231.4 445.02,212.6 448.98,215.72 453.91,218.84 459.46,217.61 471.26,225.52 477.78,226.68 485.48,227.26 500,229 520,229.8 560,230 678.3,230" fill="none" stroke="#1a1a1a" stroke-width="1.7" stroke-linejoin="round" stroke-linecap="butt" />
<polyline points="409.1,153.6 411.2,140.5 412.4,143 413.5,152 414.6,166 417.2,200 419.7,229 424.8,228.7 431.7,226.9 434.2,228 437.31,227.19 441.01,190.45 444.97,172.45 449.24,197.35 454.13,187.62 459.46,167.73 471.26,218.19 477.78,222.33 485.48,221.89 490.7,223.5 511.4,227.2 540,228.5 600,228.3 678.3,228.3" fill="none" stroke="#e0620f" stroke-width="1.7" stroke-linejoin="round" stroke-linecap="butt" />
<polyline points="409.5,160.5 410.8,145 411.6,120 414.3,105.8 417.2,120 418.3,145 419,170 421.3,200 423.4,230.3 427.6,229.2 432.6,230.2 434.2,230.6 437.31,225.66 441.01,173.17 444.97,154.08 449.38,199.89 454.13,219.86 459.46,219.49 471.26,223.27 477.78,225.37 485.48,228.42 492.8,229.7 505.2,228.9 530,230 600,230.3 678.3,230.1" fill="none" stroke="#1b9e77" stroke-width="1.7" stroke-linejoin="round" stroke-linecap="butt" />
<polyline points="409.9,184.1 412.8,160 415.2,101.5 416.6,101.5 417.6,160 418.6,200 419.3,231.4 437.2,231.4 445.02,212.6 449.38,214.48 459.46,203.81 471.26,220.58 477.78,223.2 485.48,224.5 500,227.5 530,228.8 600,229.2 678.3,229.2" fill="none" stroke="#7068bd" stroke-width="1.7" stroke-linejoin="round" stroke-linecap="butt" />
</g>
<rect x="397.4" y="4.5" width="281.20000000000005" height="246.0" fill="none" stroke="#262626" stroke-width="1.1"/>
<line x1="397.2" y1="250.5" x2="397.2" y2="255" stroke="#262626" stroke-width="1"/>
<text x="397.45" y="266.6" font-size="10.2" text-anchor="middle" fill="#222" font-family='"Liberation Sans", sans-serif' letter-spacing="-0.5">0.0</text>
<line x1="407.25" y1="250.5" x2="407.25" y2="253" stroke="#262626" stroke-width="1"/>
<line x1="417.3" y1="250.5" x2="417.3" y2="255" stroke="#262626" stroke-width="1"/>
<text x="417.55" y="266.6" font-size="10.2" text-anchor="middle" fill="#222" font-family='"Liberation Sans", sans-serif' letter-spacing="-0.5">0.5</text>
<line x1="427.35" y1="250.5" x2="427.35" y2="253" stroke="#262626" stroke-width="1"/>
<line x1="437.4" y1="250.5" x2="437.4" y2="255" stroke="#262626" stroke-width="1"/>
<text x="437.65" y="266.6" font-size="10.2" text-anchor="middle" fill="#222" font-family='"Liberation Sans", sans-serif' letter-spacing="-0.5">1.0</text>
<line x1="447.45" y1="250.5" x2="447.45" y2="253" stroke="#262626" stroke-width="1"/>
<line x1="457.5" y1="250.5" x2="457.5" y2="255" stroke="#262626" stroke-width="1"/>
<text x="457.75" y="266.6" font-size="10.2" text-anchor="middle" fill="#222" font-family='"Liberation Sans", sans-serif' letter-spacing="-0.5">1.5</text>
<line x1="467.55" y1="250.5" x2="467.55" y2="253" stroke="#262626" stroke-width="1"/>
<line x1="477.6" y1="250.5" x2="477.6" y2="255" stroke="#262626" stroke-width="1"/>
<text x="477.85" y="266.6" font-size="10.2" text-anchor="middle" fill="#222" font-family='"Liberation Sans", sans-serif' letter-spacing="-0.5">2.0</text>
<line x1="487.65" y1="250.5" x2="487.65" y2="253" stroke="#262626" stroke-width="1"/>
<line x1="497.7" y1="250.5" x2="497.7" y2="255" stroke="#262626" stroke-width="1"/>
<text x="497.95" y="266.6" font-size="10.2" text-anchor="middle" fill="#222" font-family='"Liberation Sans", sans-serif' letter-spacing="-0.5">2.5</text>
<line x1="507.75" y1="250.5" x2="507.75" y2="253" stroke="#262626" stroke-width="1"/>
<line x1="517.8" y1="250.5" x2="517.8" y2="255" stroke="#262626" stroke-width="1"/>
<text x="518.05" y="266.6" font-size="10.2" text-anchor="middle" fill="#222" font-family='"Liberation Sans", sans-serif' letter-spacing="-0.5">3.0</text>
<line x1="527.85" y1="250.5" x2="527.85" y2="253" stroke="#262626" stroke-width="1"/>
<line x1="537.9" y1="250.5" x2="537.9" y2="255" stroke="#262626" stroke-width="1"/>
<text x="538.15" y="266.6" font-size="10.2" text-anchor="middle" fill="#222" font-family='"Liberation Sans", sans-serif' letter-spacing="-0.5">3.5</text>
<line x1="547.95" y1="250.5" x2="547.95" y2="253" stroke="#262626" stroke-width="1"/>
<line x1="558" y1="250.5" x2="558" y2="255" stroke="#262626" stroke-width="1"/>
<text x="558.25" y="266.6" font-size="10.2" text-anchor="middle" fill="#222" font-family='"Liberation Sans", sans-serif' letter-spacing="-0.5">4.0</text>
<line x1="568.05" y1="250.5" x2="568.05" y2="253" stroke="#262626" stroke-width="1"/>
<line x1="578.1" y1="250.5" x2="578.1" y2="255" stroke="#262626" stroke-width="1"/>
<text x="578.35" y="266.6" font-size="10.2" text-anchor="middle" fill="#222" font-family='"Liberation Sans", sans-serif' letter-spacing="-0.5">4.5</text>
<line x1="588.15" y1="250.5" x2="588.15" y2="253" stroke="#262626" stroke-width="1"/>
<line x1="598.2" y1="250.5" x2="598.2" y2="255" stroke="#262626" stroke-width="1"/>
<text x="598.45" y="266.6" font-size="10.2" text-anchor="middle" fill="#222" font-family='"Liberation Sans", sans-serif' letter-spacing="-0.5">5.0</text>
<line x1="608.25" y1="250.5" x2="608.25" y2="253" stroke="#262626" stroke-width="1"/>
<line x1="618.3" y1="250.5" x2="618.3" y2="255" stroke="#262626" stroke-width="1"/>
<text x="618.55" y="266.6" font-size="10.2" text-anchor="middle" fill="#222" font-family='"Liberation Sans", sans-serif' letter-spacing="-0.5">5.5</text>
<line x1="628.35" y1="250.5" x2="628.35" y2="253" stroke="#262626" stroke-width="1"/>
<line x1="638.4" y1="250.5" x2="638.4" y2="255" stroke="#262626" stroke-width="1"/>
<text x="638.65" y="266.6" font-size="10.2" text-anchor="middle" fill="#222" font-family='"Liberation Sans", sans-serif' letter-spacing="-0.5">6.0</text>
<line x1="648.45" y1="250.5" x2="648.45" y2="253" stroke="#262626" stroke-width="1"/>
<line x1="658.5" y1="250.5" x2="658.5" y2="255" stroke="#262626" stroke-width="1"/>
<text x="658.75" y="266.6" font-size="10.2" text-anchor="middle" fill="#222" font-family='"Liberation Sans", sans-serif' letter-spacing="-0.5">6.5</text>
<line x1="668.55" y1="250.5" x2="668.55" y2="253" stroke="#262626" stroke-width="1"/>
<line x1="678.6" y1="250.5" x2="678.6" y2="255" stroke="#262626" stroke-width="1"/>
<text x="678.85" y="266.6" font-size="10.2" text-anchor="middle" fill="#222" font-family='"Liberation Sans", sans-serif' letter-spacing="-0.5">7.0</text>
<line x1="394.9" y1="250.3" x2="397.4" y2="250.3" stroke="#262626" stroke-width="1"/>
<line x1="393.4" y1="231.4" x2="397.4" y2="231.4" stroke="#262626" stroke-width="1"/>
<text x="389.5" y="235" font-size="10.2" text-anchor="end" fill="#222" font-family='"Liberation Sans", sans-serif' letter-spacing="-0.5">0.0</text>
<line x1="394.9" y1="212.5" x2="397.4" y2="212.5" stroke="#262626" stroke-width="1"/>
<line x1="393.4" y1="193.6" x2="397.4" y2="193.6" stroke="#262626" stroke-width="1"/>
<text x="389.5" y="197.2" font-size="10.2" text-anchor="end" fill="#222" font-family='"Liberation Sans", sans-serif' letter-spacing="-0.5">0.2</text>
<line x1="394.9" y1="174.7" x2="397.4" y2="174.7" stroke="#262626" stroke-width="1"/>
<line x1="393.4" y1="155.8" x2="397.4" y2="155.8" stroke="#262626" stroke-width="1"/>
<text x="389.5" y="159.4" font-size="10.2" text-anchor="end" fill="#222" font-family='"Liberation Sans", sans-serif' letter-spacing="-0.5">0.4</text>
<line x1="394.9" y1="136.9" x2="397.4" y2="136.9" stroke="#262626" stroke-width="1"/>
<line x1="393.4" y1="118" x2="397.4" y2="118" stroke="#262626" stroke-width="1"/>
<text x="389.5" y="121.6" font-size="10.2" text-anchor="end" fill="#222" font-family='"Liberation Sans", sans-serif' letter-spacing="-0.5">0.6</text>
<line x1="394.9" y1="99.1" x2="397.4" y2="99.1" stroke="#262626" stroke-width="1"/>
<line x1="393.4" y1="80.2" x2="397.4" y2="80.2" stroke="#262626" stroke-width="1"/>
<text x="389.5" y="83.8" font-size="10.2" text-anchor="end" fill="#222" font-family='"Liberation Sans", sans-serif' letter-spacing="-0.5">0.8</text>
<line x1="394.9" y1="61.3" x2="397.4" y2="61.3" stroke="#262626" stroke-width="1"/>
<line x1="393.4" y1="42.4" x2="397.4" y2="42.4" stroke="#262626" stroke-width="1"/>
<text x="389.5" y="46" font-size="10.2" text-anchor="end" fill="#222" font-family='"Liberation Sans", sans-serif' letter-spacing="-0.5">1.0</text>
<line x1="394.9" y1="23.5" x2="397.4" y2="23.5" stroke="#262626" stroke-width="1"/>
<line x1="393.4" y1="4.6" x2="397.4" y2="4.6" stroke="#262626" stroke-width="1"/>
<text x="389.5" y="8.2" font-size="10.2" text-anchor="end" fill="#222" font-family='"Liberation Sans", sans-serif' letter-spacing="-0.5">1.2</text>
<rect x="590.5" y="9.4" width="82" height="66.2" fill="#fff" stroke="#b0b0b0" stroke-width="0.9"/>
<line x1="591.6" y1="16.3" x2="614.4" y2="16.3" stroke="#ff0a85" stroke-width="1.8"/>
<text x="616.6" y="19.2" font-size="9.8" text-anchor="start" fill="#222" font-family='"Liberation Sans", sans-serif' >SpEC</text>
<line x1="591.6" y1="29.4" x2="614.4" y2="29.4" stroke="#1a1a1a" stroke-width="1.8"/>
<text x="616.6" y="32.3" font-size="9.8" text-anchor="start" fill="#222" font-family='"Liberation Sans", sans-serif' >aSpEC</text>
<line x1="591.6" y1="42.3" x2="614.4" y2="42.3" stroke="#e0620f" stroke-width="1.8"/>
<text x="616.6" y="45.2" font-size="9.8" text-anchor="start" fill="#222" font-family='"Liberation Sans", sans-serif' >Fe-N-aSpEC</text>
<line x1="591.6" y1="55.2" x2="614.4" y2="55.2" stroke="#1b9e77" stroke-width="1.8"/>
<text x="616.6" y="58.1" font-size="9.8" text-anchor="start" fill="#222" font-family='"Liberation Sans", sans-serif' >N-aSpEC</text>
<line x1="591.6" y1="68.2" x2="614.4" y2="68.2" stroke="#7068bd" stroke-width="1.8"/>
<text x="616.6" y="71.1" font-size="9.8" text-anchor="start" fill="#222" font-family='"Liberation Sans", sans-serif' >Fe-aSpEC</text>
<text x="410" y="22.7" font-size="17.5" text-anchor="start" fill="#222" font-family='"Liberation Serif", serif' >(b)</text>
<text x="500.3" y="286" font-size="12" text-anchor="start" fill="#222" font-family='"Liberation Sans", sans-serif' >Pore size (nm)</text>
<text transform="translate(364,164.9) rotate(-90)" font-size="13" fill="#222" font-family='"Liberation Sans", sans-serif'>dV(log r) (cm<tspan font-size="8.4" dy="-5">3</tspan><tspan dy="5">/g)</tspan></text>
<rect x="449.7" y="9.0" width="132.90000000000003" height="116.3" fill="#fff"/>
<clipPath id="ic"><rect x="449.7" y="9.0" width="132.90000000000003" height="116.3"/></clipPath>
<g clip-path="url(#ic)">
<polyline points="449.8,121.4 460.4,121.4 468.8,101 477.8,67 487.9,40.4 498.6,38.7 537.6,76.7 552.3,82.3 569.8,88.2 590,94.5" fill="none" stroke="#ff0a85" stroke-width="1.2" stroke-linejoin="round" stroke-linecap="butt" />
<polyline points="449.8,121.4 460.4,121.4 477.9,95.5 486.9,99.8 498.1,104.1 510.7,102.4 537.5,113.3 552.3,114.9 569.8,115.7 590,116.9" fill="none" stroke="#1a1a1a" stroke-width="1.2" stroke-linejoin="round" stroke-linecap="butt" />
<polyline points="449.8,116.2 453.3,116.7 460.4,115.6 468.8,65 477.8,40.2 487.5,74.5 498.6,61.1 510.7,33.7 537.5,103.2 552.3,108.9 569.8,108.3 590,110.4" fill="none" stroke="#e0620f" stroke-width="1.2" stroke-linejoin="round" stroke-linecap="butt" />
<polyline points="449.8,119.7 453.3,120.4 460.4,113.5 468.8,41.2 477.8,14.9 487.8,78 498.6,105.5 510.7,105 537.5,110.2 552.3,113.1 569.8,117.3 590,119" fill="none" stroke="#1b9e77" stroke-width="1.2" stroke-linejoin="round" stroke-linecap="butt" />
<polyline points="449.8,121.4 460.4,121.4 477.9,95.5 487.8,98.1 510.7,83.4 537.5,106.5 552.3,110.1 569.8,111.9 590,114" fill="none" stroke="#7068bd" stroke-width="1.2" stroke-linejoin="round" stroke-linecap="butt" />
</g>
<rect x="449.7" y="9.0" width="132.90000000000003" height="116.3" fill="none" stroke="#444" stroke-width="0.8"/>
<line x1="460.6" y1="125.3" x2="460.6" y2="128.1" stroke="#444" stroke-width="0.75"/>
<text x="460.6" y="133.5" font-size="4.6" text-anchor="middle" fill="#222" font-family='"Liberation Sans", sans-serif' stroke="#222" stroke-width="0.22">1.0</text>
<line x1="483.4" y1="125.3" x2="483.4" y2="126.8" stroke="#444" stroke-width="0.75"/>
<line x1="506.2" y1="125.3" x2="506.2" y2="128.1" stroke="#444" stroke-width="0.75"/>
<text x="506.2" y="133.5" font-size="4.6" text-anchor="middle" fill="#222" font-family='"Liberation Sans", sans-serif' stroke="#222" stroke-width="0.22">1.5</text>
<line x1="529" y1="125.3" x2="529" y2="126.8" stroke="#444" stroke-width="0.75"/>
<line x1="551.8" y1="125.3" x2="551.8" y2="128.1" stroke="#444" stroke-width="0.75"/>
<text x="551.8" y="133.5" font-size="4.6" text-anchor="middle" fill="#222" font-family='"Liberation Sans", sans-serif' stroke="#222" stroke-width="0.22">2.0</text>
<line x1="574.6" y1="125.3" x2="574.6" y2="126.8" stroke="#444" stroke-width="0.75"/>
<line x1="446.9" y1="121.4" x2="449.7" y2="121.4" stroke="#444" stroke-width="0.75"/>
<text x="446.3" y="123" font-size="4.6" text-anchor="end" fill="#222" font-family='"Liberation Sans", sans-serif' stroke="#222" stroke-width="0.22">0.0</text>
<line x1="448.2" y1="95.3" x2="449.7" y2="95.3" stroke="#444" stroke-width="0.75"/>
<line x1="446.9" y1="69.2" x2="449.7" y2="69.2" stroke="#444" stroke-width="0.75"/>
<text x="446.3" y="70.8" font-size="4.6" text-anchor="end" fill="#222" font-family='"Liberation Sans", sans-serif' stroke="#222" stroke-width="0.22">0.2</text>
<line x1="448.2" y1="43.1" x2="449.7" y2="43.1" stroke="#444" stroke-width="0.75"/>
<line x1="446.9" y1="17" x2="449.7" y2="17" stroke="#444" stroke-width="0.75"/>
<text x="446.3" y="18.6" font-size="4.6" text-anchor="end" fill="#222" font-family='"Liberation Sans", sans-serif' stroke="#222" stroke-width="0.22">0.4</text>
<text x="497.8" y="142.7" font-size="5.7" text-anchor="start" fill="#222" font-family='"Liberation Sans", sans-serif' stroke="#222" stroke-width="0.22">Pore size (nm)</text>
<text transform="translate(434,85.3) rotate(-90)" font-size="6.1" fill="#222" stroke="#222" stroke-width="0.22" font-family='"Liberation Sans", sans-serif'>dV(log r) (cm<tspan font-size="3.8" dy="-2.2">3</tspan><tspan dy="2.2">/g)</tspan></text>
<rect x="541.2" y="11.6" width="38.8" height="30.6" fill="#fff" stroke="#aaa" stroke-width="0.6"/>
<line x1="541.6" y1="14.7" x2="551.9" y2="14.7" stroke="#ff3d9e" stroke-width="1.4"/>
<text x="552.9" y="16.3" font-size="4.6" text-anchor="start" fill="#222" font-family='"Liberation Sans", sans-serif' stroke="#222" stroke-width="0.22">SpEC</text>
<line x1="541.6" y1="21" x2="551.9" y2="21" stroke="#8a8a8a" stroke-width="1.4"/>
<text x="552.9" y="22.6" font-size="4.6" text-anchor="start" fill="#222" font-family='"Liberation Sans", sans-serif' stroke="#222" stroke-width="0.22">aSpEC</text>
<line x1="541.6" y1="27.1" x2="551.9" y2="27.1" stroke="#ec8c50" stroke-width="1.4"/>
<text x="552.9" y="28.7" font-size="4.6" text-anchor="start" fill="#222" font-family='"Liberation Sans", sans-serif' stroke="#222" stroke-width="0.22">Fe-N-aSpEC</text>
<line x1="541.6" y1="33.1" x2="551.9" y2="33.1" stroke="#3aae88" stroke-width="1.4"/>
<text x="552.9" y="34.7" font-size="4.6" text-anchor="start" fill="#222" font-family='"Liberation Sans", sans-serif' stroke="#222" stroke-width="0.22">N-aSpEC</text>
<line x1="541.6" y1="39.3" x2="551.9" y2="39.3" stroke="#9490cc" stroke-width="1.4"/>
<text x="552.9" y="40.9" font-size="4.6" text-anchor="start" fill="#222" font-family='"Liberation Sans", sans-serif' stroke="#222" stroke-width="0.22">Fe-aSpEC</text>
<line x1="477.6" y1="132.8" x2="459.5" y2="151.8" stroke="#111" stroke-width="1.2"/>
<polygon points="454.8,157.1 456.4,149.6 462.3,154.6" fill="#111"/>
</svg></body></html>
